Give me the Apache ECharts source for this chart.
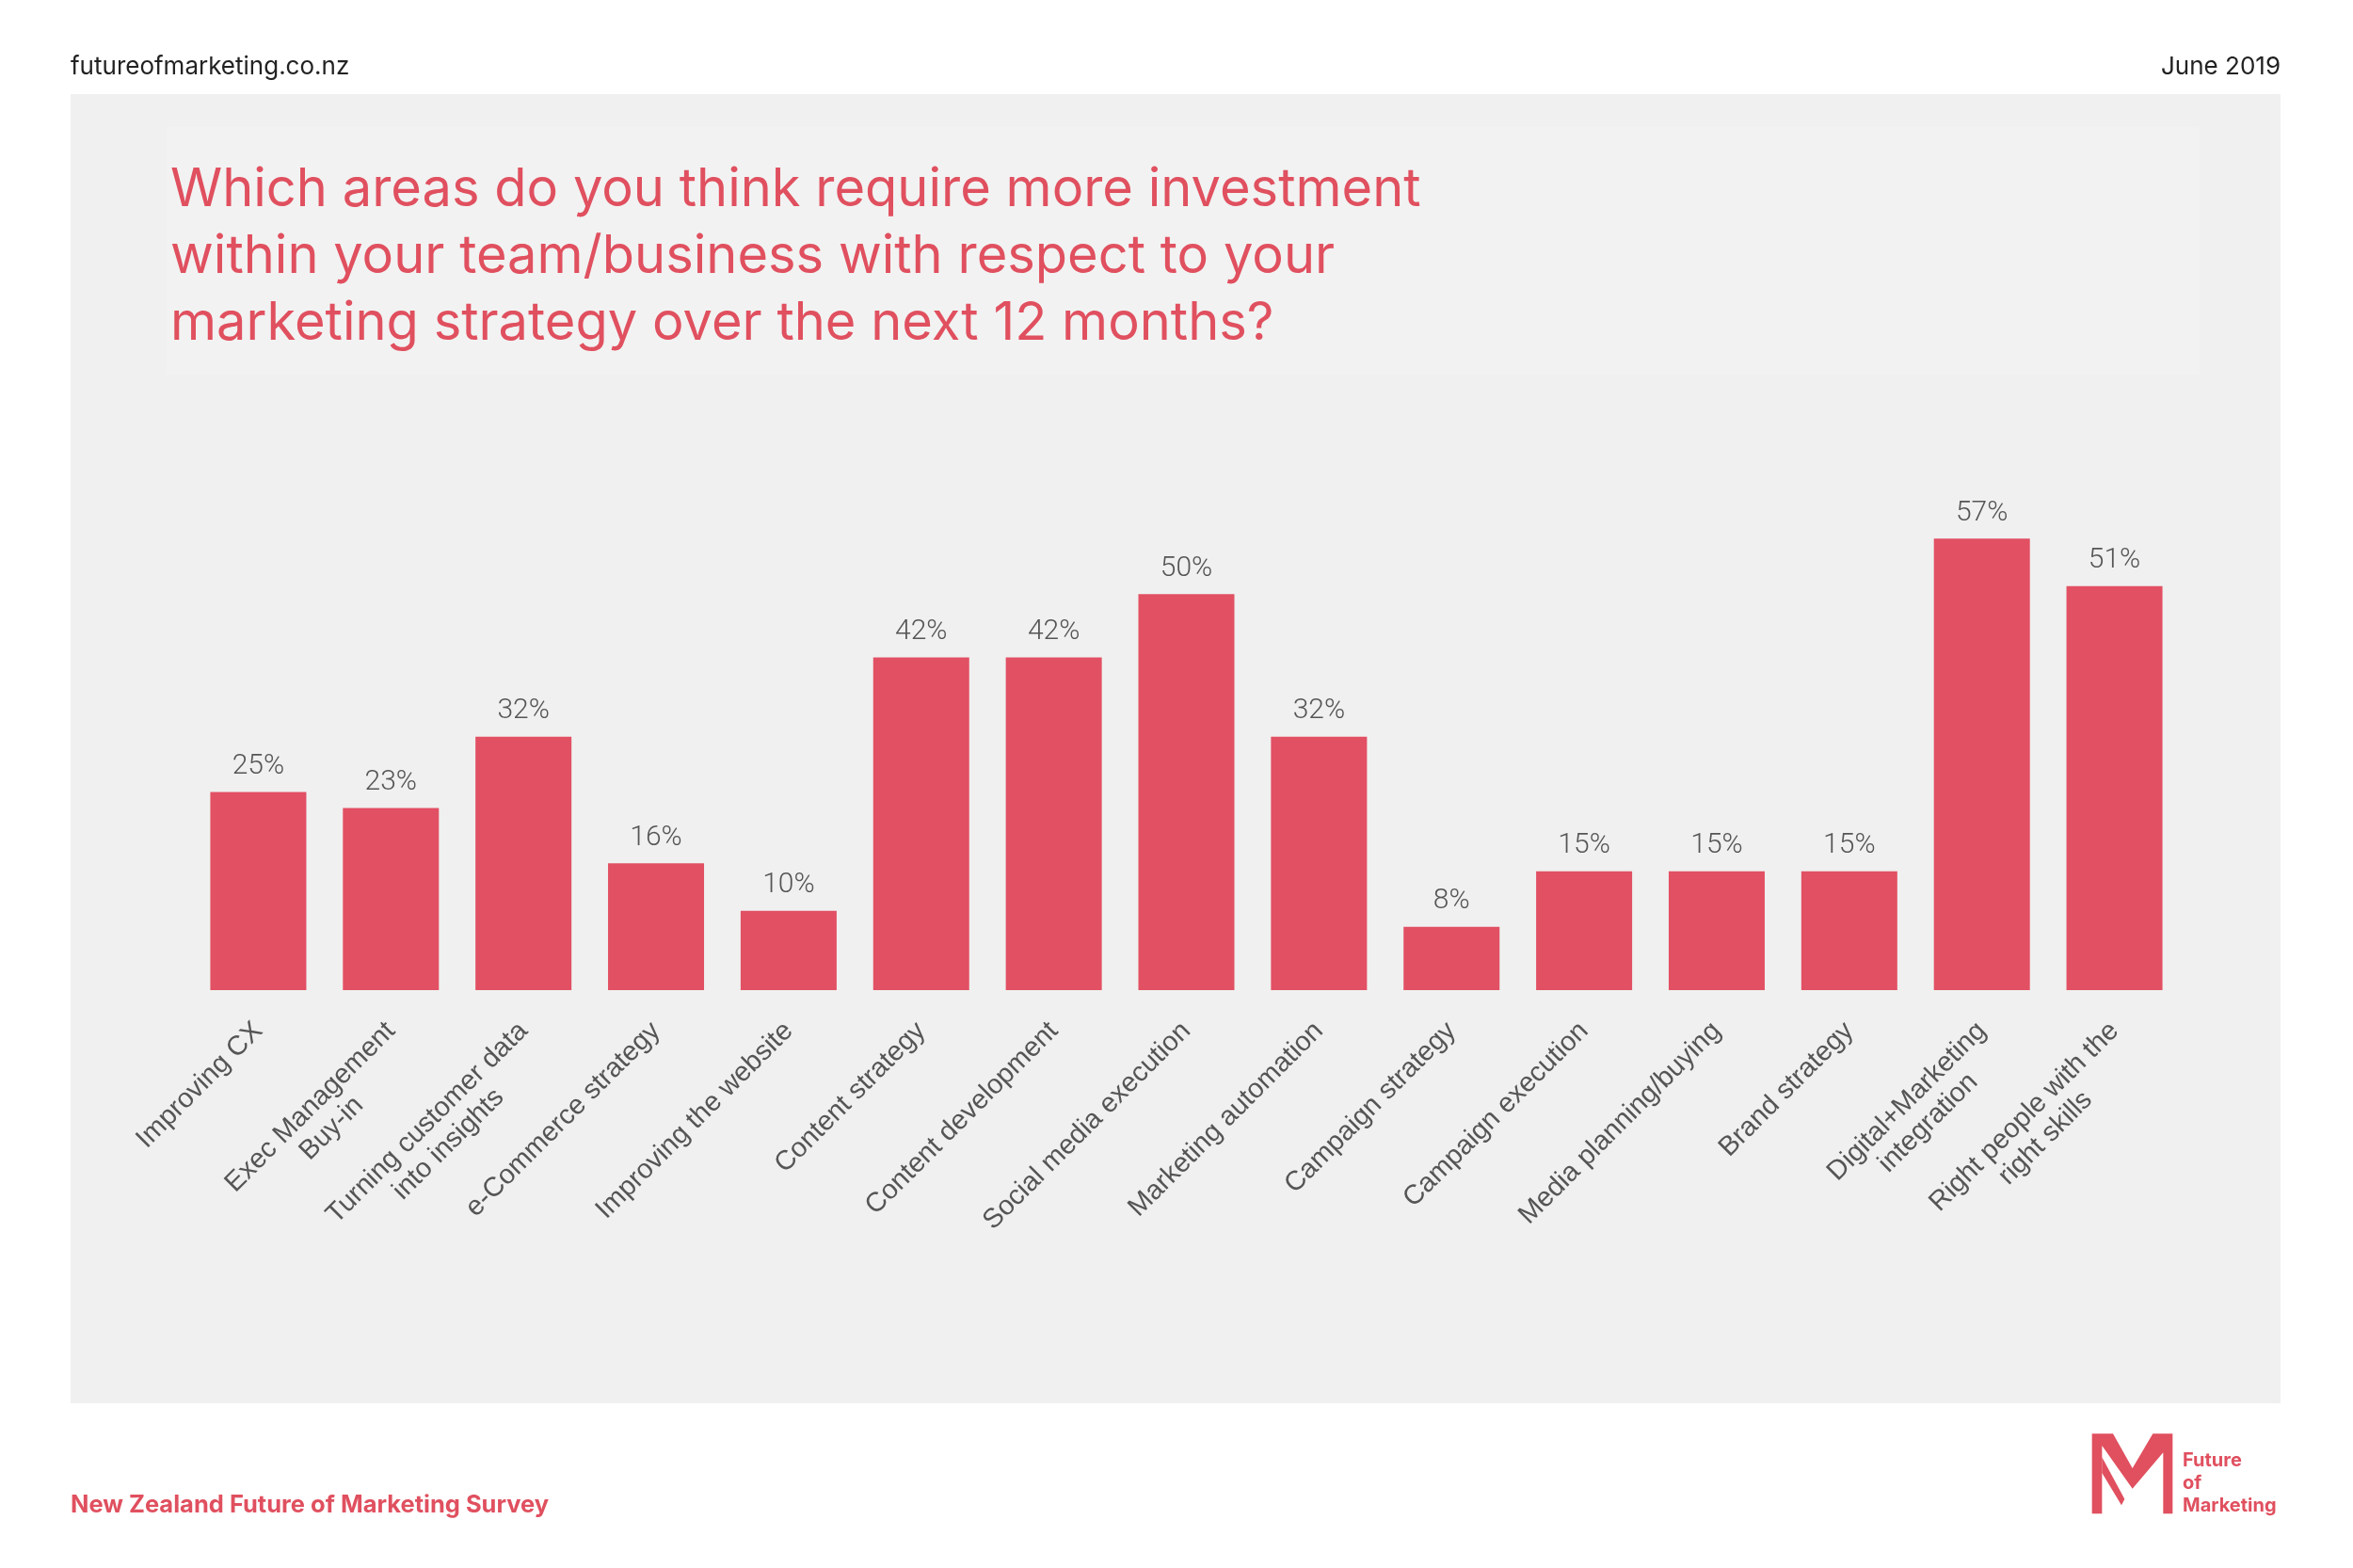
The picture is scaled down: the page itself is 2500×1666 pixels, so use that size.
<!DOCTYPE html>
<html>
<head>
<meta charset="utf-8">
<style>
html,body{margin:0;padding:0;background:#fff;}
#chart{width:2500px;height:1666px;}
</style>
<script src="https://cdn.jsdelivr.net/npm/echarts@6/dist/echarts.min.js"></script>
</head>
<body>
<div id="chart"></div>
<script>
const categories = [
  "Improving CX",
  "Exec Management\nBuy-in",
  "Turning customer data\ninto insights",
  "e-Commerce strategy",
  "Improving the website",
  "Content strategy",
  "Content development",
  "Social media execution",
  "Marketing automation",
  "Campaign strategy",
  "Campaign execution",
  "Media planning/buying",
  "Brand strategy",
  "Digital+Marketing\nintegration",
  "Right people with the\nright skills"
];
const values = [25, 23, 32, 16, 10, 42, 42, 50, 32, 8, 15, 15, 15, 57, 51];
const titleLines = [
  "Which areas do you think require more investment",
  "within your team/business with respect to your",
  "marketing strategy over the next 12 months?"
];
const siteText = "futureofmarketing.co.nz";
const dateText = "June 2019";
const footerText = "New Zealand Future of Marketing Survey";
const logoLines = ["Future", "of", "Marketing"];

const RED = "#e0505f";
const BAR = "#e25063";
const GREY_TXT = "#555555";
const LABEL_FONT = '"Liberation Sans", Arial, sans-serif';

const chart = echarts.init(document.getElementById('chart'), null, {renderer: 'canvas'});

// logo polygons (decoration) in local coords -> page coords
function lp(pts){ return pts.map(p => [2200 + p[0]/3, 1510 + p[1]/3]); }

const graphics = [
  {type:'rect', shape:{x:75, y:100, width:2348, height:1391}, style:{fill:'#f0f0f0'}, z:-10, silent:true},
  {type:'rect', shape:{x:177, y:135, width:2160, height:263}, style:{fill:'#f2f2f2'}, z:-9, silent:true},
  {type:'text', left:75, top:58, style:{text:siteText, font:'400 26px Inter, "Noto Sans", sans-serif', fill:'#222'}},
  {type:'text', right:2500-2423, top:58, style:{text:dateText, font:'400 26px Inter, "Noto Sans", sans-serif', fill:'#222', textAlign:'right'}},
  {type:'text', left:75, top:1586, style:{text:footerText, font:'700 25.5px Inter, "Noto Sans", sans-serif', fill:RED}},
  {type:'polygon', shape:{points: lp([[68,40],[135,40],[197,150],[262,40],[325,40],[325,295],[295,295],[295,100],[197,215],[100,78],[100,295],[68,295]])}, style:{fill:RED}},
  {type:'polygon', shape:{points: lp([[100,115],[172,248],[162,268],[100,165]])}, style:{fill:RED}},
  {type:'text', left:2319, top:1540, style:{text:logoLines.join('\n'), font:'700 20px Inter, "Noto Sans", sans-serif', lineHeight:24, fill:RED}}
];
titleLines.forEach((t, i) => {
  graphics.push({type:'text', left:181, top:174 + i*71, style:{text:t, font:'400 56px Inter, "Noto Sans", sans-serif', fill:RED}});
});

chart.setOption({
  backgroundColor: '#ffffff',
  animation: false,
  graphic: graphics,
  grid: {left: 204, right: 183, top: 547, bottom: 614, containLabel: false},
  xAxis: {
    type: 'category',
    data: categories,
    axisLine: {show: false},
    axisTick: {show: false},
    axisLabel: {
      interval: 0,
      rotate: 45,
      margin: 39,
      color: GREY_TXT,
      fontFamily: LABEL_FONT,
      fontSize: 29,
      formatter: v => {
        const lines = v.split('\n').map(s => '{c|' + s + '}');
        if (lines.length === 2) lines.unshift('{c| }');
        return lines.join('\n');
      },
      rich: {c: {align: 'center', color: GREY_TXT, fontSize: 29, fontFamily: LABEL_FONT, lineHeight: 32}}
    }
  },
  yAxis: {type: 'value', min: 0, max: 60, show: false, splitLine: {show: false}},
  series: [{
    type: 'bar',
    data: values,
    barWidth: 102,
    itemStyle: {color: BAR},
    label: {
      show: true,
      position: 'top',
      distance: 12,
      formatter: p => p.value + '%',
      color: GREY_TXT,
      fontSize: 30,
      fontWeight: 300,
      fontFamily: 'Roboto, Inter, sans-serif'
    }
  }]
});
</script>
</body>
</html>
